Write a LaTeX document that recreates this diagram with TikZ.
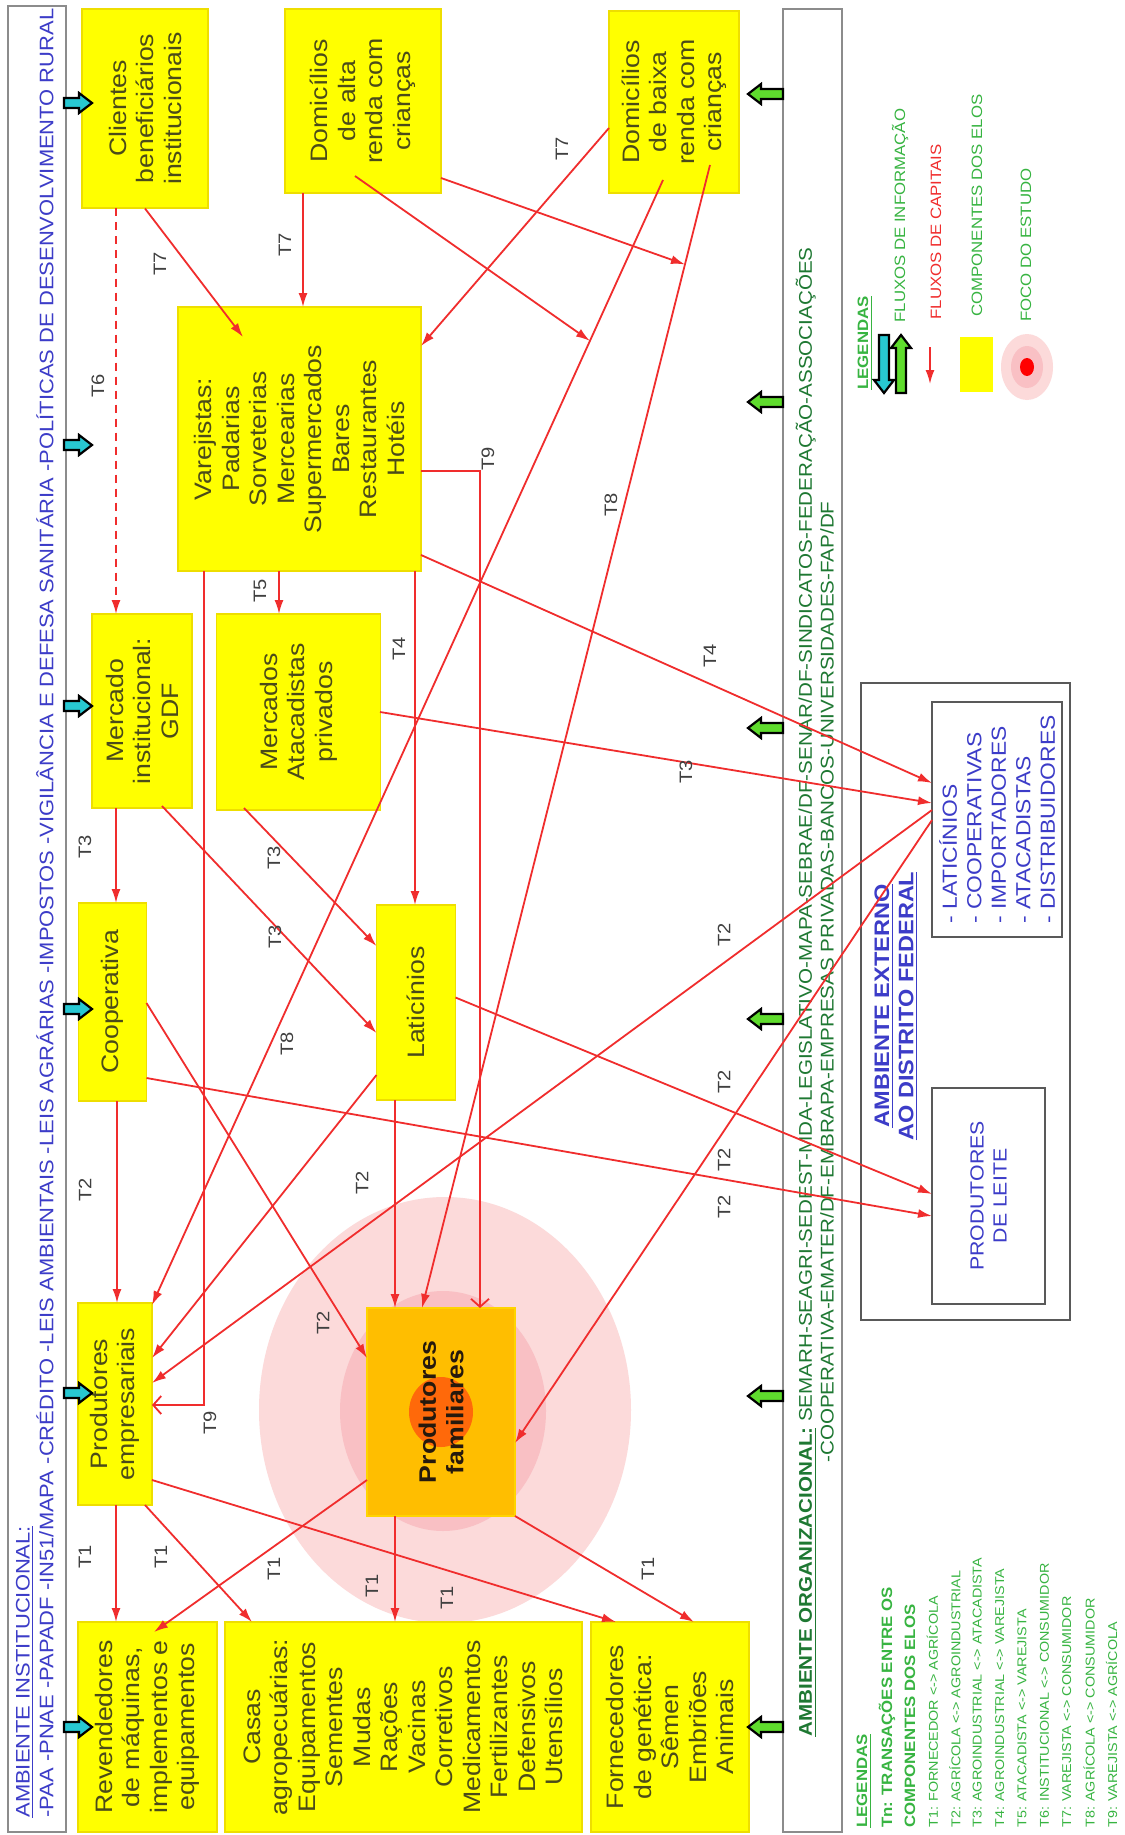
\documentclass[tikz,border=0pt]{standalone}
\usepackage{fontspec}
\setmainfont{Liberation Sans}[FakeStretch=1.12]
\usetikzlibrary{calc,arrows.meta}

\definecolor{capital}{RGB}{240,45,45}
\definecolor{elofill}{RGB}{255,255,0}
\definecolor{elodraw}{RGB}{238,222,0}
\definecolor{elotext}{RGB}{75,75,25}
\definecolor{focofill}{RGB}{255,190,0}
\definecolor{focodraw}{RGB}{255,212,0}
\definecolor{focoa}{RGB}{252,218,218}
\definecolor{focob}{RGB}{249,192,196}
\definecolor{fococ}{RGB}{255,105,10}
\definecolor{institext}{RGB}{60,60,200}
\definecolor{orgtext}{RGB}{30,120,50}
\definecolor{legtext}{RGB}{55,180,65}
\definecolor{infocyan}{RGB}{40,200,210}
\definecolor{infogreen}{RGB}{95,220,45}

\tikzset{
  elo/.style={draw=elodraw, line width=0.6pt, fill=elofill, text=elotext, rotate=90,
    align=center, inner sep=0pt, font=\fontsize{11.9}{13.75}\selectfont},
  dims/.style 2 args={minimum width=#2*0.5pt, minimum height=#1*0.5pt},
  fluxo/.style={draw=capital, line width=0.9pt, -{Latex[length=7pt,width=4.5pt]}},
  fluxoab/.style={draw=capital, line width=0.9pt, -{Straight Barb[length=4pt,width=9pt]}},
  tlab/.style={rotate=90, inner sep=0pt, text=black!75, font=\fontsize{9}{9}\selectfont},
  faixa/.style={draw=black!45, line width=1.3pt},
  caixa/.style={draw=black!65, line width=0.9pt},
  insttxt/.style={rotate=90, inner sep=0pt, text=institext, font=\fontsize{9.8}{10.5}\selectfont},
  orgtxt/.style={rotate=90, inner sep=0pt, text=orgtext, font=\fontsize{9.2}{10.5}\selectfont},
  exttxt/.style={rotate=90, inner sep=0pt, text=institext},
  legtxt/.style={rotate=90, inner sep=0pt, text=legtext, font=\fontsize{7.5}{9}\selectfont},
  pics/seta/.style 2 args={code={
    \draw[line width=1.1pt, fill=#1] (0,-5) -- ({#2-13},-5) -- ({#2-13},-10) -- (#2,0)
      -- ({#2-13},10) -- ({#2-13},5) -- (0,5) -- cycle;}}
}

\begin{document}
\begin{tikzpicture}[x=0.5pt,y=-0.5pt]
  %%%%% START %%%%%
  \fill[white] (0,0) rectangle (1124,1835);
  \useasboundingbox (0,0) rectangle (1124,1835);

  % ambientes institucional e organizacional
  \draw[faixa] (8,6) rectangle (66,1832);
  \draw[faixa] (783,9) rectangle (842,1832);
  \node[insttxt, anchor=west] (inst1) at (25,1818) {\underline{AMBIENTE INSTITUCIONAL:}};
  \node[insttxt, anchor=west] (inst2) at (45,1818) {-PAA -PNAE -PAPADF -IN51/MAPA -CRÉDITO -LEIS AMBIENTAIS -LEIS AGRÁRIAS -IMPOSTOS -VIGILÂNCIA E DEFESA SANITÁRIA -POLÍTICAS DE DESENVOLVIMENTO RURAL};
  \node[orgtxt, anchor=west] (org1) at (806,1737) {\textbf{\underline{AMBIENTE ORGANIZACIONAL:}} SEMARH-SEAGRI-SEDEST-MDA-LEGISLATIVO-MAPA-SEBRAE/DF-SENAR/DF-SINDICATOS-FEDERAÇÃO-ASSOCIAÇÕES};
  \node[orgtxt] (org2) at (827,982) {-COOPERATIVA-EMATER/DF-EMBRAPA-EMPRESAS PRIVADAS-BANCOS-UNIVERSIDADES-FAP/DF};

  % foco do estudo
  \fill[focoa] (445,1410) ellipse [x radius=186, y radius=213];
  \fill[focob] (443,1411) ellipse [x radius=103, y radius=120];

  % elos
  \node[elo, dims={126}{199}] (cli) at (145,108.5) {Clientes\\beneficiários\\institucionais};
  \node[elo, dims={156}{184}] (alta) at (363,101) {Domicílios\\de alta\\renda com\\crianças};
  \node[elo, dims={130}{182}] (baixa) at (674,102) {Domicílios\\de baixa\\renda com\\crianças};
  \node[elo, dims={243}{264}] (vare) at (299.5,439) {Varejistas:\\Padarias\\Sorveterias\\Mercearias\\Supermercados\\Bares\\Restaurantes\\Hotéis};
  \node[elo, dims={100}{194}] (gdf) at (142,711) {Mercado\\institucional:\\GDF};
  \node[elo, dims={164}{196}] (atac) at (298.5,712) {Mercados\\Atacadistas\\privados};
  \node[elo, dims={68}{198}] (coop) at (112.5,1002) {Cooperativa};
  \node[elo, dims={79}{195}] (lati) at (416,1002.5) {Laticínios};
  \node[elo, dims={74}{202}] (pemp) at (115,1404) {Produtores\\empresariais};
  \node[elo, dims={148}{208}, fill=focofill, draw=focodraw, text=black!80!brown,
    font=\fontsize{11.9}{13.75}\selectfont\bfseries,
    path picture={\fill[fococ] (path picture bounding box.center) ellipse [x radius=17.5pt, y radius=16pt];}]
    (pfam) at (441,1412) {Produtores\\familiares};
  \node[elo, dims={139}{210}] (rev) at (147.5,1727) {Revendedores\\de máquinas,\\implementos e\\equipamentos};
  \node[elo, dims={357}{210}] (casas) at (403.5,1727) {Casas\\agropecuárias:\\Equipamentos\\Sementes\\Mudas\\Rações\\Vacinas\\Corretivos\\Medicamentos\\Fertilizantes\\Defensivos\\Utensílios};
  \node[elo, dims={158}{210}] (forn) at (670,1727) {Fornecedores\\de genética:\\Sêmen\\Embriões\\Animais};

  % fluxos de informacao
  \foreach \y in {103,445,706,1009,1393,1727}
    \pic at (64,\y) {seta={infocyan}{28}};
  \foreach \y in {94,402,728,1019,1396,1727}
    \pic[rotate=180] at (783,\y) {seta={infogreen}{35}};

  % ambiente externo
  \draw[caixa] (861,683) rectangle (1070,1320);
  \node[exttxt, font=\fontsize{10.5}{12.2}\selectfont\bfseries, align=center] (exttit) at (896,1006)
    {\underline{AMBIENTE EXTERNO}\\\underline{AO DISTRITO FEDERAL}};
  \node[caixa, exttxt, dims={130}{235}, align=left, font=\fontsize{10.2}{12.25}\selectfont] (extl) at (997,819.5)
    {- LATICÍNIOS\\- COOPERATIVAS\\- IMPORTADORES\\- ATACADISTAS\\- DISTRIBUIDORES};
  \node[caixa, exttxt, dims={113}{216}, align=center, font=\fontsize{9.5}{11.5}\selectfont] (leite) at (988.5,1196)
    {PRODUTORES\\DE LEITE};

  % fluxos de capitais
  \draw[fluxo] ($(cli)+(0,100)$) -- ($(vare)+(-56.5,-102)$);
  \draw[fluxo, dash pattern=on 4pt off 3pt] ($(cli)+(-29,100)$) -- ($(gdf)+(-26,-97)$);
  \draw[fluxo] ($(alta)+(-60,92)$) -- ($(vare)+(3.5,-132)$);
  \draw[fluxo] ($(baixa)+(-65,26)$) -- ($(vare)+(121.5,-93)$);
  \draw[fluxoab] ($(vare)+(121.5,32)$) -| ($(pfam)+(39,-104)$);
  \draw[fluxoab] ($(vare)+(-95.5,132)$) |- ($(pemp)+(37,1)$);
  \draw[fluxo] ($(vare)+(-20.5,132)$) -- ($(atac)+(-19.5,-98)$);
  \draw[fluxo] ($(vare)+(115.5,132)$) -- ($(lati)+(-1,-97.5)$);
  \draw[fluxo] ($(vare)+(121.5,116)$) -- ($(extl)+(-65,-36.5)$);
  \draw[fluxo] ($(atac)+(81.5,0)$) -- ($(extl)+(-65,-16.5)$);
  \draw[fluxo] ($(atac)+(-54.5,96)$) -- ($(lati)+(-39.5,-56.5)$);
  \draw[fluxo] ($(gdf)+(-26,97)$) -- ($(coop)+(3.5,-99)$);
  \draw[fluxo] ($(gdf)+(20,95)$) -- ($(lati)+(-39.5,30.5)$);
  \draw[fluxo] ($(coop)+(4.5,99)$) -- ($(pemp)+(2,-101)$);
  \draw[fluxo] ($(coop)+(34,1)$) -- ($(pfam)+(-74,-54)$);
  \draw[fluxo] ($(coop)+(34,76)$) -- ($(leite)+(-56.5,20)$);
  \draw[fluxo] ($(lati)+(39.5,-5)$) -- ($(leite)+(-56.5,-2)$);
  \draw[fluxo] ($(lati)+(-21,97.5)$) -- ($(pfam)+(-46,-104)$);
  \draw[fluxo] ($(lati)+(-39.5,72.5)$) -- ($(pemp)+(37,-46)$);
  \draw[fluxo] ($(extl)+(-65,-9.5)$) -- ($(pemp)+(37,-21)$);
  \draw[fluxo] ($(extl)+(-65,0.5)$) -- ($(pfam)+(74,31)$);
  % T8: domicilios -> produtores
  \coordinate (laA) at ($(baixa)+(-11,78)$);
  \coordinate (laB) at ($(pemp)+(37,-99)$);
  \coordinate (lbA) at ($(baixa)+(36,63)$);
  \coordinate (lbB) at ($(pfam)+(-19,-104)$);
  \draw[fluxo] (laA) -- (laB);
  \draw[fluxo] (lbA) -- (lbB);
  \draw[fluxo] ($(alta)+(-8,75)$) -- ($(laA)!0.143!(laB)$);
  \draw[fluxo] ($(alta)+(78,77)$) -- ($(lbA)!0.087!(lbB)$);
  % T1: produtores -> fornecedores
  \draw[fluxo] ($(pemp)+(1,101)$) -- ($(rev)+(-31.5,-105)$);
  \draw[fluxo] ($(pemp)+(30,101)$) -- ($(casas)+(-151.5,-105)$);
  \draw[fluxo] ($(pemp)+(37,76)$) -- ($(forn)+(-54,-105)$);
  \draw[fluxo] ($(pfam)+(-74,68)$) -- ($(rev)+(6.5,-95)$);
  \draw[fluxo] ($(pfam)+(-46,104)$) -- ($(casas)+(-8.5,-105)$);
  \draw[fluxo] ($(pfam)+(74,104)$) -- ($(forn)+(24,-105)$);

  % transacoes
  \foreach \x/\y/\lbl [count=\i] in {160/264/T7, 285/245/T7, 562/149/T7, 98/386/T6,
      488/459/T9, 210/1423/T9, 260/591/T5, 399/649/T4, 710/656/T4,
      686/772/T3, 274/858/T3, 85/847/T3, 275/937/T3, 287/1044/T8, 611/505/T8,
      85/1190/T2, 323/1323/T2, 362/1183/T2, 724/935/T2, 724/1082/T2, 724/1160/T2, 724/1207/T2,
      85/1557/T1, 161/1557/T1, 274/1569/T1, 372/1586/T1, 447/1598/T1, 648/1569/T1}
    \node[tlab] (t\i) at (\x,\y) {\lbl};

  % legendas
  \node[legtxt, anchor=west, font=\fontsize{7.5}{9}\selectfont\bfseries] (leg) at (865,390) {\underline{LEGENDAS}};
  \pic[rotate=-90] at (884,335) {seta={infocyan}{58}};
  \pic[rotate=90] at (901,393) {seta={infogreen}{58}};
  \node[legtxt, anchor=west] (legi) at (900,323) {FLUXOS DE INFORMAÇÃO};
  \draw[fluxo] (930,347) -- (930,384);
  \node[legtxt, anchor=west, text=capital] (legc) at (936,320) {FLUXOS DE CAPITAIS};
  \fill[elofill] (960,337) rectangle (993,392);
  \node[legtxt, anchor=west] (lege) at (977,317) {COMPONENTES DOS ELOS};
  \fill[focoa] (1027,367) ellipse [x radius=26, y radius=33];
  \fill[focob] (1027,367) ellipse [x radius=16, y radius=21];
  \fill[red] (1027,367) ellipse [x radius=7, y radius=9];
  \node[legtxt, anchor=west] (legf) at (1026,322) {FOCO DO ESTUDO};

  \node[legtxt, anchor=west, font=\fontsize{7.5}{9}\selectfont\bfseries] (legt) at (864,1828) {\underline{LEGENDAS}};
  \node[legtxt, anchor=west, font=\fontsize{7.5}{9}\selectfont\bfseries] (legt1) at (887,1828) {Tn: TRANSAÇÕES ENTRE OS};
  \node[legtxt, anchor=west, font=\fontsize{7.5}{9}\selectfont\bfseries] (legt2) at (910,1828) {COMPONENTES DOS ELOS};
  \foreach \lbl [count=\i] in {{T1: FORNECEDOR <-> AGRÍCOLA}, {T2: AGRÍCOLA <-> AGROINDUSTRIAL},
      {T3: AGROINDUSTRIAL <-> ATACADISTA}, {T4: AGROINDUSTRIAL <-> VAREJISTA},
      {T5: ATACADISTA <-> VAREJISTA}, {T6: INSTITUCIONAL <-> CONSUMIDOR},
      {T7: VAREJISTA <-> CONSUMIDOR}, {T8: AGRÍCOLA <-> CONSUMIDOR}, {T9: VAREJISTA <-> AGRÍCOLA}}
    \node[legtxt, anchor=west, font=\fontsize{6.4}{8}\selectfont] (legn\i) at ({910+22.4*\i},1828) {\lbl};
  %%%%% END %%%%%
\end{tikzpicture}
\end{document}
